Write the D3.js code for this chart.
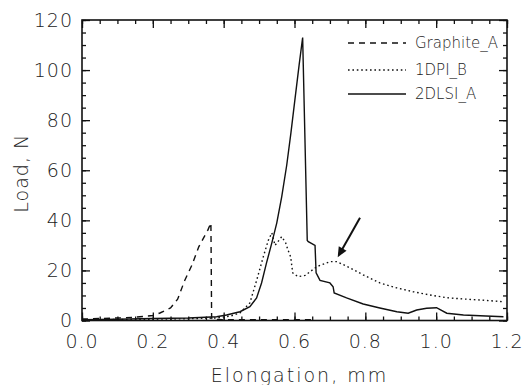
<!DOCTYPE html>
<meta charset="utf-8">
<html>
<head>
<style>
  body { margin: 0; background: #fff; }
  text { font-family: "DejaVu Sans", sans-serif; font-weight: 200; fill: #222; }
</style>
</head>
<body>
<div id="chart"></div>
<script src="https://d3js.org/d3.v7.min.js"></script>
<script>

  // Graphite_A (dashed)
  var graphiteX = [0, 0.05, 0.10, 0.15, 0.20, 0.22, 0.25, 0.27, 0.29, 0.31, 0.33, 0.355, 0.364, 0.366, 0.37, 0.45, 0.55, 0.65];
  var graphiteY = [0.6, 0.8, 1.0, 1.3, 2.0, 3.0, 5.0, 8.5, 16, 22, 29.5, 36, 39, 1, 0.4, 0.3, 0.3, 0.3];

  // 1DPI_B (dotted)
  var dpiX = [0, 0.1, 0.2, 0.3, 0.38, 0.42, 0.446, 0.474, 0.493, 0.512, 0.526, 0.536, 0.545, 0.556, 0.564, 0.575, 0.582, 0.589, 0.595, 0.61, 0.63, 0.663, 0.70, 0.72, 0.757, 0.794, 0.841, 0.889, 0.935, 0.982, 1.03, 1.076, 1.124, 1.19];
  var dpiY = [0.3, 0.4, 0.5, 0.7, 1.0, 1.8, 3, 7, 16, 25.5, 32, 35, 30, 32, 33.5, 31, 28, 25.5, 19, 17.5, 18, 21.5, 23.5, 23.5, 21, 18.2, 15, 13, 11.5, 10.2, 9.1, 8.6, 8.2, 7.5];

  // 2DLSI_A (solid)
  var dlsiX = [0, 0.1, 0.2, 0.3, 0.38, 0.408, 0.446, 0.474, 0.493, 0.507, 0.521, 0.536, 0.55, 0.564, 0.578, 0.59, 0.601, 0.613, 0.623, 0.636, 0.639, 0.658, 0.661, 0.672, 0.70, 0.709, 0.712, 0.747, 0.794, 0.841, 0.889, 0.921, 0.945, 0.973, 1.001, 1.03, 1.077, 1.124, 1.19];
  var dlsiY = [0.3, 0.5, 0.8, 1.0, 1.5, 2.2, 3.5, 5.5, 9, 15, 23, 31, 39, 49.5, 62, 75, 88, 102, 113, 32, 31.5, 30, 19, 16, 15, 13.5, 11, 9, 6.6, 5, 3.5, 2.9, 4.2, 4.9, 5.1, 2.9, 2.2, 1.9, 1.5];

  var seriesNames = ["Graphite_A", "1DPI_B", "2DLSI_A"];
  var xTicks = [0, 0.2, 0.4, 0.6, 0.8, 1.0, 1.2];
  var yTicks = [0, 20, 40, 60, 80, 100, 120];

  // arrow pointing at the 1DPI_B hump: [tail, head] in data units
  var arrowFrom = [0.785, 41];
  var arrowTo = [0.722, 25.3];

  var W = 523, H = 385;
  var margin = {top: 20, right: 16, bottom: 64.5, left: 82};
  var width = W - margin.left - margin.right,
      height = H - margin.top - margin.bottom;

  var svg = d3.select("#chart").append("svg")
      .attr("width", W).attr("height", H)
    .append("g")
      .attr("transform", "translate(" + margin.left + "," + margin.top + ")");

  var x = d3.scaleLinear().domain([0, 1.2]).range([0, width]);
  var y = d3.scaleLinear().domain([0, 120]).range([height, 0]);

  var minorX = d3.range(0, 1.2001, 0.05);
  var minorY = d3.range(0, 120.001, 5);

  function tickAxis(axis, sc, major, minor) {
    // inward ticks, minors then majors
    svg.append("g").attr("transform", axis.t)
      .call(axis.f(sc).tickValues(minor).tickSize(-4).tickFormat(""))
      .call(function(g){ g.select(".domain").remove(); });
    svg.append("g").attr("transform", axis.t)
      .call(axis.f(sc).tickValues(major).tickSize(-8).tickFormat(""))
      .call(function(g){ g.select(".domain").remove(); });
  }
  tickAxis({f: d3.axisBottom, t: "translate(0," + height + ")"}, x, xTicks, minorX);
  tickAxis({f: d3.axisTop, t: "translate(0,0)"}, x, xTicks, minorX);
  tickAxis({f: d3.axisLeft, t: "translate(0,0)"}, y, yTicks, minorY);
  tickAxis({f: d3.axisRight, t: "translate(" + width + ",0)"}, y, yTicks, minorY);
  svg.selectAll(".tick line").attr("stroke", "#111").attr("stroke-width", 1.3);

  svg.append("rect")
    .attr("width", width).attr("height", height)
    .attr("fill", "none").attr("stroke", "#111").attr("stroke-width", 1.6);

  // tick labels
  svg.selectAll(".xlab").data(xTicks).enter().append("text")
    .attr("x", function(d){ return x(d); })
    .attr("y", height + 27)
    .attr("text-anchor", "middle")
    .style("font-size", "19px").style("letter-spacing", "1px")
    .text(function(d){ return d3.format(".1f")(d); });

  svg.selectAll(".ylab").data(yTicks).enter().append("text")
    .attr("x", -9)
    .attr("y", function(d){ return y(d); })
    .attr("dy", "0.36em")
    .attr("text-anchor", "end")
    .style("font-size", "19px").style("letter-spacing", "1px")
    .text(function(d){ return d; });

  svg.append("text")
    .attr("x", width / 2 + 5).attr("y", H - margin.top - 3)
    .attr("text-anchor", "middle")
    .style("font-size", "19px").style("letter-spacing", "2px")
    .text("Elongation, mm");

  svg.append("text")
    .attr("transform", "translate(" + (-margin.left + 28) + "," + (height / 2 + 3) + ") rotate(-90)")
    .attr("text-anchor", "middle")
    .style("font-size", "19px").style("letter-spacing", "1px")
    .text("Load, N");

  var line = d3.line()
    .x(function(d){ return x(d[0]); })
    .y(function(d){ return y(d[1]); });

  var series = [
    {xs: graphiteX, ys: graphiteY, dash: "6,5"},
    {xs: dpiX, ys: dpiY, dash: "1.6,2.8"},
    {xs: dlsiX, ys: dlsiY, dash: null}
  ];

  series.forEach(function(s) {
    svg.append("path")
      .datum(d3.zip(s.xs, s.ys))
      .attr("fill", "none")
      .attr("stroke", "#111")
      .attr("stroke-width", 1.4)
      .attr("stroke-dasharray", s.dash)
      .attr("d", line);
  });

  // legend
  var legend = svg.append("g").attr("transform", "translate(" + (348 - margin.left) + "," + (43 - margin.top) + ")");
  series.forEach(function(s, i) {
    var gy = i === 0 ? 0 : (i === 1 ? 27 : 51);
    legend.append("line")
      .attr("x1", 0).attr("x2", 58).attr("y1", gy).attr("y2", gy)
      .attr("stroke", "#111").attr("stroke-width", 1.4)
      .attr("stroke-dasharray", s.dash);
    legend.append("text")
      .attr("x", 67).attr("y", gy).attr("dy", "0.36em")
      .style("font-size", "15px")
      .text(seriesNames[i]);
  });

  // arrow
  var ax0 = x(arrowFrom[0]), ay0 = y(arrowFrom[1]);
  var ax1 = x(arrowTo[0]), ay1 = y(arrowTo[1]);
  var ang = Math.atan2(ay1 - ay0, ax1 - ax0);
  var hl = 10, hw = 4.5;
  var bx = ax1 - hl * Math.cos(ang), by = ay1 - hl * Math.sin(ang);
  svg.append("line")
    .attr("x1", ax0).attr("y1", ay0).attr("x2", bx + 2 * Math.cos(ang)).attr("y2", by + 2 * Math.sin(ang))
    .attr("stroke", "#111").attr("stroke-width", 2);
  svg.append("path")
    .attr("d", "M" + ax1 + "," + ay1 +
      "L" + (bx - hw * Math.sin(ang)) + "," + (by + hw * Math.cos(ang)) +
      "L" + (bx + hw * Math.sin(ang)) + "," + (by - hw * Math.cos(ang)) + "Z")
    .attr("fill", "#111");

</script>
</body>
</html>
